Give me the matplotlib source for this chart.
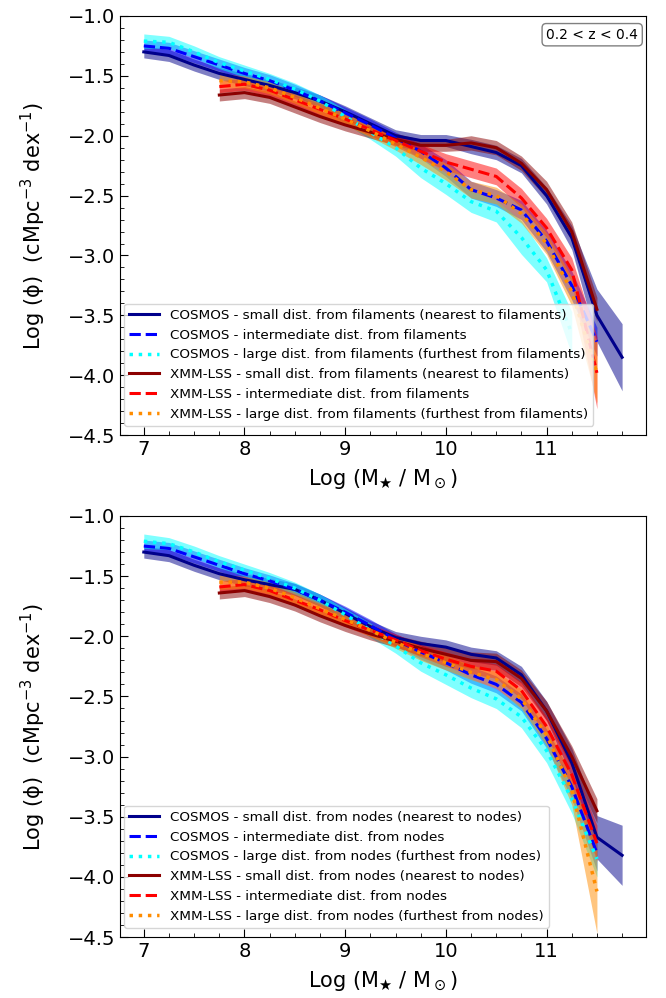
import numpy as np
import matplotlib
matplotlib.use("Agg")
import matplotlib.pyplot as plt

# stellar mass bins
mass_cosmos = [7.0, 7.25, 7.5, 7.75, 8.0, 8.25, 8.5, 8.75, 9.0, 9.25, 9.5, 9.75,
               10.0, 10.25, 10.5, 10.75, 11.0, 11.25, 11.5, 11.75]
mass_xmm = [7.75, 8.0, 8.25, 8.5, 8.75, 9.0, 9.25, 9.5, 9.75, 10.0, 10.25, 10.5,
            10.75, 11.0, 11.25, 11.5]

# ---- top panel: distance to filaments ----
fil_cosmos_small = [-1.30, -1.33, -1.41, -1.48, -1.53, -1.58, -1.64, -1.71, -1.80, -1.90, -2.00, -2.04,
                    -2.04, -2.09, -2.14, -2.25, -2.50, -2.85, -3.50, -3.85]
fil_cosmos_small_err = [0.05, 0.05, 0.05, 0.05, 0.05, 0.05, 0.05, 0.05, 0.05, 0.05, 0.05, 0.05,
                        0.05, 0.06, 0.06, 0.06, 0.07, 0.10, 0.22, 0.28]
fil_cosmos_inter = [-1.25, -1.27, -1.34, -1.41, -1.48, -1.54, -1.62, -1.71, -1.81, -1.91, -2.02, -2.13,
                    -2.27, -2.45, -2.52, -2.62, -2.88, -3.25, -3.72]
fil_cosmos_inter_err = [0.05, 0.05, 0.05, 0.05, 0.05, 0.05, 0.05, 0.05, 0.05, 0.05, 0.05, 0.06,
                        0.07, 0.07, 0.07, 0.08, 0.09, 0.12, 0.12]
fil_cosmos_large = [-1.21, -1.22, -1.30, -1.39, -1.46, -1.53, -1.61, -1.71, -1.84, -1.97, -2.10, -2.27,
                    -2.40, -2.55, -2.63, -2.85, -3.12, -3.65]
fil_cosmos_large_err = [0.06, 0.05, 0.05, 0.05, 0.05, 0.05, 0.05, 0.05, 0.06, 0.06, 0.07, 0.08,
                        0.09, 0.09, 0.09, 0.14, 0.10, 0.18]
fil_xmm_small = [-1.66, -1.64, -1.68, -1.76, -1.84, -1.91, -1.97, -2.03, -2.08, -2.08,
                 -2.06, -2.10, -2.23, -2.45, -2.80, -3.45]
fil_xmm_small_err = [0.05, 0.05, 0.05, 0.05, 0.05, 0.05, 0.05, 0.05, 0.05, 0.05,
                     0.06, 0.06, 0.06, 0.07, 0.08, 0.10]
fil_xmm_inter = [-1.59, -1.57, -1.62, -1.70, -1.78, -1.86, -1.95, -2.04, -2.13, -2.22,
                 -2.28, -2.34, -2.52, -2.77, -3.12, -3.98]
fil_xmm_inter_err = [0.05, 0.05, 0.05, 0.05, 0.05, 0.05, 0.05, 0.05, 0.06, 0.07,
                     0.07, 0.07, 0.08, 0.08, 0.10, 0.30]
fil_xmm_large = [-1.54, -1.55, -1.60, -1.68, -1.77, -1.86, -1.96, -2.07, -2.18, -2.30,
                 -2.45, -2.50, -2.65, -2.90, -3.30, -3.98]
fil_xmm_large_err = [0.06, 0.05, 0.05, 0.05, 0.05, 0.05, 0.05, 0.05, 0.06, 0.07,
                     0.07, 0.07, 0.08, 0.09, 0.12, 0.25]

# ---- bottom panel: distance to nodes ----
nod_cosmos_small = [-1.30, -1.33, -1.41, -1.48, -1.53, -1.57, -1.61, -1.70, -1.81, -1.92, -2.01, -2.06,
                    -2.09, -2.15, -2.18, -2.32, -2.62, -3.05, -3.67, -3.82]
nod_cosmos_small_err = [0.05, 0.05, 0.05, 0.05, 0.05, 0.05, 0.05, 0.05, 0.05, 0.05, 0.05, 0.06,
                        0.06, 0.06, 0.06, 0.07, 0.08, 0.12, 0.18, 0.25]
nod_cosmos_inter = [-1.25, -1.27, -1.34, -1.41, -1.48, -1.54, -1.61, -1.70, -1.80, -1.91, -2.03, -2.13,
                    -2.22, -2.32, -2.40, -2.55, -2.85, -3.25, -3.80]
nod_cosmos_inter_err = [0.05, 0.05, 0.05, 0.05, 0.05, 0.05, 0.05, 0.05, 0.05, 0.05, 0.05, 0.06,
                        0.06, 0.07, 0.07, 0.07, 0.08, 0.10, 0.15]
nod_cosmos_large = [-1.21, -1.23, -1.30, -1.38, -1.45, -1.52, -1.60, -1.70, -1.82, -1.95, -2.08, -2.22,
                    -2.32, -2.43, -2.52, -2.67, -2.95, -3.35, -3.85]
nod_cosmos_large_err = [0.06, 0.05, 0.05, 0.05, 0.05, 0.05, 0.05, 0.05, 0.05, 0.06, 0.06, 0.07,
                        0.08, 0.08, 0.08, 0.09, 0.10, 0.12, 0.15]
nod_xmm_small = [-1.64, -1.62, -1.67, -1.74, -1.83, -1.91, -1.98, -2.04, -2.10, -2.15,
                 -2.20, -2.21, -2.35, -2.62, -3.00, -3.45]
nod_xmm_small_err = [0.05, 0.05, 0.05, 0.05, 0.05, 0.05, 0.05, 0.05, 0.06, 0.06,
                     0.07, 0.07, 0.07, 0.08, 0.09, 0.10]
nod_xmm_inter = [-1.59, -1.57, -1.62, -1.70, -1.78, -1.87, -1.95, -2.03, -2.12, -2.19,
                 -2.25, -2.29, -2.45, -2.75, -3.15, -3.72]
nod_xmm_inter_err = [0.05, 0.05, 0.05, 0.05, 0.05, 0.05, 0.05, 0.05, 0.05, 0.06,
                     0.06, 0.06, 0.07, 0.08, 0.10, 0.15]
nod_xmm_large = [-1.55, -1.55, -1.60, -1.68, -1.77, -1.86, -1.95, -2.05, -2.14, -2.22,
                 -2.30, -2.36, -2.52, -2.82, -3.28, -4.12]
nod_xmm_large_err = [0.06, 0.05, 0.05, 0.05, 0.05, 0.05, 0.05, 0.05, 0.06, 0.06,
                     0.06, 0.07, 0.08, 0.09, 0.12, 0.35]

colors = ["darkblue", "blue", "cyan", "darkred", "red", "darkorange"]
styles = ["-", "--", ":", "-", "--", ":"]

panels = [
    ("filaments", [fil_cosmos_small, fil_cosmos_inter, fil_cosmos_large,
                   fil_xmm_small, fil_xmm_inter, fil_xmm_large],
     [fil_cosmos_small_err, fil_cosmos_inter_err, fil_cosmos_large_err,
      fil_xmm_small_err, fil_xmm_inter_err, fil_xmm_large_err]),
    ("nodes", [nod_cosmos_small, nod_cosmos_inter, nod_cosmos_large,
               nod_xmm_small, nod_xmm_inter, nod_xmm_large],
     [nod_cosmos_small_err, nod_cosmos_inter_err, nod_cosmos_large_err,
      nod_xmm_small_err, nod_xmm_inter_err, nod_xmm_large_err]),
]

fig = plt.figure(figsize=(6.66, 9.98), dpi=100)
ax_top = fig.add_axes([0.180, 0.564, 0.790, 0.420])
ax_bot = fig.add_axes([0.180, 0.061, 0.790, 0.422])

for ax, (struct, series, errors) in zip([ax_top, ax_bot], panels):
    labels = [
        f"COSMOS - small dist. from {struct} (nearest to {struct})",
        f"COSMOS - intermediate dist. from {struct}",
        f"COSMOS - large dist. from {struct} (furthest from {struct})",
        f"XMM-LSS - small dist. from {struct} (nearest to {struct})",
        f"XMM-LSS - intermediate dist. from {struct}",
        f"XMM-LSS - large dist. from {struct} (furthest from {struct})",
    ]
    for i, (y, err) in enumerate(zip(series, errors)):
        base = mass_cosmos if i < 3 else mass_xmm
        x = np.array(base[:len(y)])
        y = np.array(y)
        err = np.array(err)
        lw = 2.5 if styles[i] == ":" else 2.2
        ax.plot(x, y, color=colors[i], ls=styles[i], lw=lw, label=labels[i])
        ax.fill_between(x, y - err, y + err, color=colors[i], alpha=0.5, lw=0)

    ax.set_ylim(-4.5, -1.0)
    ax.set_yticks(np.arange(-4.5, -0.99, 0.5))
    ax.set_yticks(np.arange(-4.5, -0.99, 0.1), minor=True)
    ax.set_xticks([7, 8, 9, 10, 11])
    ax.set_xticks(np.arange(7, 12.0, 0.25), minor=True)
    ax.tick_params(which="both", direction="in", labelsize=14)
    ax.tick_params(which="major", length=6)
    ax.tick_params(which="minor", length=3)
    ax.set_xlabel(r"Log (M$_\bigstar$ / M$_\odot$)", fontsize=15, labelpad=6)
    ax.set_ylabel(r"Log (ϕ)  (cMpc$^{-3}$ dex$^{-1}$)", fontsize=15, labelpad=14)
    ax.legend(loc="lower left", fontsize=9.7, framealpha=0.8, borderaxespad=0.3,
              bbox_to_anchor=(0.0, 0.012), handlelength=2.2)

ax_top.text(0.985, 0.972, "0.2 < z < 0.4", transform=ax_top.transAxes, ha="right", va="top",
            fontsize=10, bbox=dict(boxstyle="round,pad=0.3", fc="white", ec="gray"))

fig.savefig("out.png", dpi=100)
